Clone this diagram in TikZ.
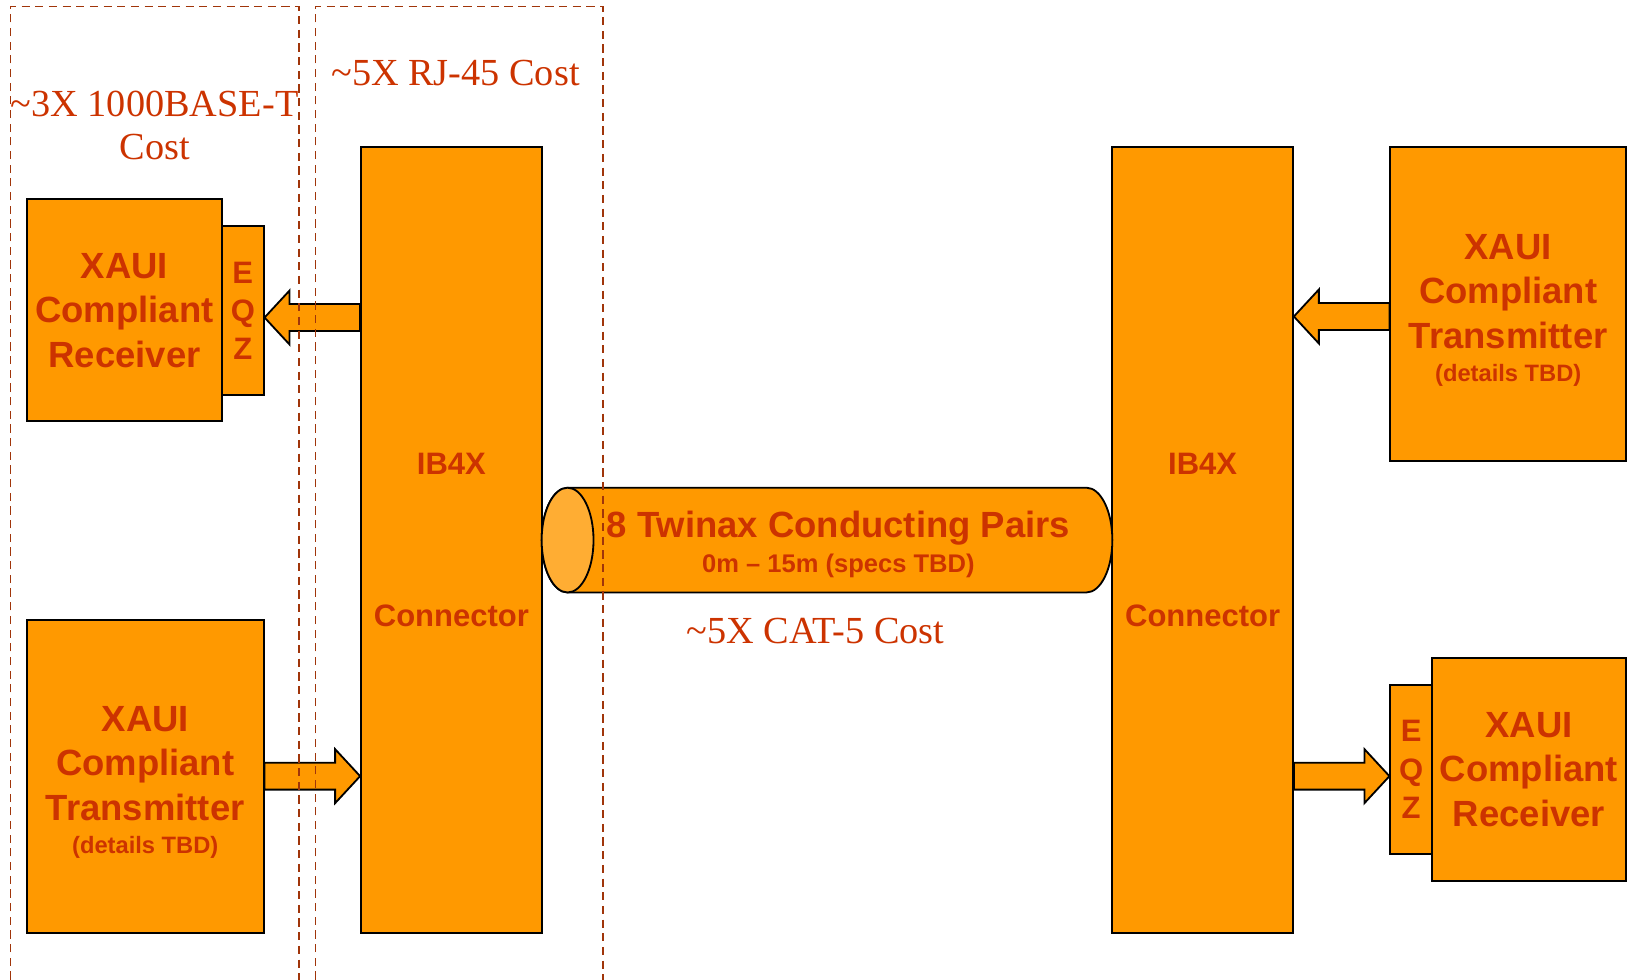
\documentclass[tikz,border=0pt]{standalone}
\usepackage{fontspec}
\setmainfont{Liberation Serif}
\setsansfont{Liberation Sans}
\usetikzlibrary{calc}
\definecolor{orangeBoite}{HTML}{FF9900}
\definecolor{orangeClair}{HTML}{FFAD33}
\definecolor{rougeTexte}{HTML}{CC3300}
\definecolor{brunPointille}{HTML}{A0350A}
\begin{document}
\begin{tikzpicture}[x=0.02cm,y=-0.02cm]
		\tikzstyle{boite}=[draw=black,fill=orangeBoite,line width=1.1pt,inner sep=0pt,text=rougeTexte,align=center,font=\sffamily\bfseries\fontsize{20}{24.4}\selectfont]
		\tikzstyle{texteBoite}=[text=rougeTexte,align=center,inner sep=0pt,font=\sffamily\bfseries\fontsize{20}{24.4}\selectfont]
		\tikzstyle{eqz}=[boite,font=\sffamily\bfseries\fontsize{17}{21}\selectfont]
		\tikzstyle{connecteur}=[boite,font=\sffamily\bfseries\fontsize{17}{20}\selectfont]
		\tikzstyle{texteCable}=[text=rougeTexte,align=center,inner sep=0pt,font=\sffamily\bfseries\fontsize{20}{24}\selectfont]
		\tikzstyle{cout}=[text=rougeTexte,align=center,inner sep=0pt,font=\fontsize{21}{23.8}\selectfont]
		\tikzstyle{zone}=[draw=brunPointille,line width=0.8pt,dash pattern=on 4.5pt off 3pt]
		\tikzstyle{bloc}=[draw=black,fill=orangeBoite,line width=1pt,line join=miter]
		\tikzstyle{cable}=[draw=black,fill=orangeBoite,line width=1pt]
		\tikzstyle{capot}=[draw=black,fill=orangeClair,line width=1pt]
		\def\Details{\fontsize{13}{16}\selectfont}
		\def\Specs{\fontsize{14}{16}\selectfont}
		% fleche bloc horizontale : #1 depart, #2 arrivee, #3 hauteur
		\def\flecheBloc#1#2#3{%
			\draw[bloc] let \p1=(#1 |- 0,#3), \p2=(#2 |- 0,#3), \n1={sign(\x2-\x1)} in
				(\x1,{\y1+7.4pt}) -- ({\x2-\n1*13.7pt},{\y1+7.4pt}) -- ({\x2-\n1*13.7pt},{\y1+14.8pt})
				-- (\x2,\y1) -- ({\x2-\n1*13.7pt},{\y1-14.8pt}) -- ({\x2-\n1*13.7pt},{\y1-7.4pt})
				-- (\x1,{\y1-7.4pt}) -- cycle;}
		\useasboundingbox (0,0) rectangle (1568,944);
		% cote gauche
		\node[boite,minimum width=3.76cm,minimum height=4.28cm] (recG) at (120,299) {XAUI\\Compliant\\Receiver};
		\node[eqz,minimum width=0.8cm,minimum height=3.26cm] (eqzG) at (234,299.5) {E\\Q\\Z};
		\node[boite,minimum width=4.56cm,minimum height=6.04cm] (traG) at (140,748) {};
		\node[texteBoite] (txtTraG) at (140,754) {XAUI\\Compliant\\Transmitter\\[-6pt]{\Details (details TBD)}};
		\node[connecteur,minimum width=3.48cm,minimum height=15.14cm] (conG) at (435,520.5) {IB4X\\[63.6pt]Connector};
		% cote droit
		\node[connecteur,minimum width=3.48cm,minimum height=15.14cm] (conD) at (1159,520.5) {IB4X\\[63.6pt]Connector};
		\node[boite,minimum width=4.54cm,minimum height=6.04cm] (traD) at (1453.5,293) {};
		\node[texteBoite] (txtTraD) at (1453.5,299) {XAUI\\Compliant\\Transmitter\\[-6pt]{\Details (details TBD)}};
		\node[boite,minimum width=3.74cm,minimum height=4.3cm] (recD) at (1473.5,741.5) {XAUI\\Compliant\\Receiver};
		\node[eqz,minimum width=0.8cm,minimum height=3.26cm] (eqzD) at (1360,741.5) {E\\Q\\Z};
		% cable
		\draw[cable] (547,470) -- (1047,470) arc[start angle=90,end angle=-90,x radius=0.5cm,y radius=1.01cm]
			-- (547,571) arc[start angle=270,end angle=90,x radius=0.5cm,y radius=1.01cm] -- cycle;
		\draw[capot] (547,520.5) ellipse[x radius=0.5cm,y radius=1.01cm];
		\node[texteCable] (libCable) at (808,525) {8 Twinax Conducting Pairs\\[-4.7pt]{\Specs 0m – 15m (specs TBD)}};
		% fleches
		\flecheBloc{conG.west}{eqzG.east}{306}
		\flecheBloc{traG.east}{conG.west}{748}
		\flecheBloc{traD.west}{conD.east}{305}
		\flecheBloc{conD.east}{eqzD.west}{748}
		% couts
		\node[cout] (coutPhy) at (149,121) {\textasciitilde3X 1000BASE-T\\Cost};
		\node[cout] (coutRJ) at (439,70) {\textasciitilde5X RJ-45 Cost};
		\node[cout] (coutCat) at (786,608) {\textasciitilde5X CAT-5 Cost};
		\draw[zone] (10,944) -- (10,6) -- (288,6) -- (288,944);
		\draw[zone] (304,944) -- (304,6) -- (581,6) -- (581,944);
	\end{tikzpicture}
\end{document}
